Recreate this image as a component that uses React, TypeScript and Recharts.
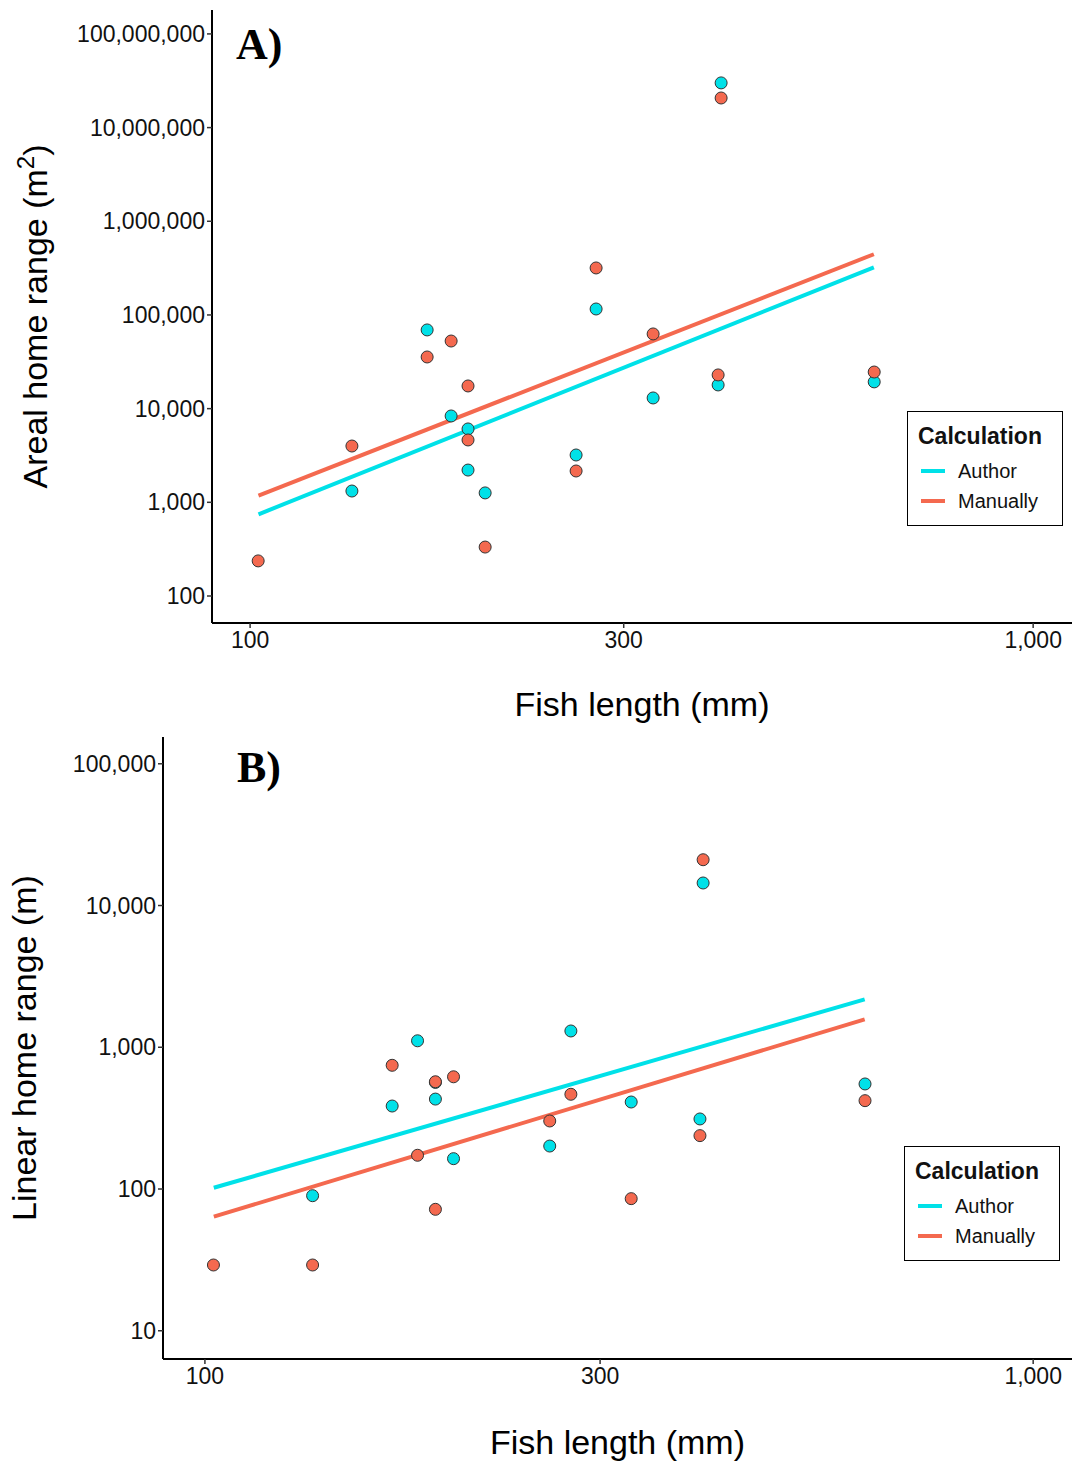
import { ScatterChart, Scatter, XAxis, YAxis, Legend, Customized } from 'recharts';

const FONT = '"Liberation Sans", Arial, Helvetica, sans-serif';
const SERIF = '"Liberation Serif", "Times New Roman", serif';
const AUTHOR = '#00E1E8';
const MANUAL = '#F4694F';

// fish length (mm), one entry per fish
const lengths = [102.4, 134.9, 168.3, 180.6, 189.8, 189.8, 199.6, 260.8, 276.6, 327.1, 399.5, 396, 626.6];

// A) areal home range (m2)
const arealAuthor = [null, 1320, 69200, 8350, 6070, 2210, 1260, 3200, 115800, 13000, 30000000, 17900, 19300];
const arealManual = [237, 3990, 35600, 52700, 17460, 4630, 333, 2160, 317500, 62700, 20700000, 22900, 24600];

// B) linear home range (m)
const linearAuthor = [null, 89.7, 385, 1111, 431, 565, 163.7, 201, 1303, 411, 14420, 312, 551];
const linearManual = [29.1, 29.1, 746, 173, 571, 71.9, 619, 302, 466, 85.5, 21040, 238, 420];

// fitted lines (end points)
const fitLengths = [102.5, 626];
const arealAuthorFit = [745, 322800];
const arealManualFit = [1178, 444600];
const linearAuthorFit = [102, 2177];
const linearManualFit = [63.8, 1574];

const xTicks = [100, 300, 1000];
const arealTicks = [100, 1000, 10000, 100000, 1000000, 10000000, 100000000];
const linearTicks = [10, 100, 1000, 10000, 100000];

const toPts = (xs: number[], ys: (number | null)[]) =>
  xs.map((x, i) => ({ x, y: ys[i] })).filter((p) => p.y != null);

const fmt = (v: number) => v.toLocaleString('en-US');

function Dot(props: any) {
  const { cx, cy, fill } = props;
  if (cx == null || cy == null) return <g />;
  return <circle cx={cx} cy={cy} r={6} fill={fill} stroke="#333" strokeWidth={1} />;
}

const legendColors: Record<string, string> = { Author: AUTHOR, Manually: MANUAL };

function LegendBox() {
  const items = ['Author', 'Manually'];
  return (
    <div
      style={{
        width: 156,
        height: 115,
        boxSizing: 'border-box',
        border: '1.5px solid #000',
        background: '#fff',
        fontFamily: FONT,
        position: 'relative',
        color: '#111',
      }}
    >
      <div style={{ position: 'absolute', left: 10, top: 11, fontSize: 23, fontWeight: 'bold', lineHeight: '26px' }}>
        Calculation
      </div>
      {items.map((name, i) => (
        <div
          key={name}
          style={{ position: 'absolute', left: 13, top: 47 + 30 * i, height: 24, display: 'flex', alignItems: 'center' }}
        >
          <span style={{ display: 'inline-block', width: 24, height: 4, background: legendColors[name] }} />
          <span style={{ marginLeft: 13, fontSize: 20 }}>{name}</span>
        </div>
      ))}
    </div>
  );
}

type PanelProps = {
  height: number;
  top: number;
  yWidth: number;
  xHeight: number;
  xDomain: [number, number];
  yDomain: [number, number];
  yTicks: number[];
  author: (number | null)[];
  manual: (number | null)[];
  authorFit: number[];
  manualFit: number[];
  letter: string;
  letterX: number;
  letterY: number;
  yTitle: React.ReactNode;
  yTitleX: number;
  xTitleY: number;
  legendLeft: number;
  legendTop: number;
};

function Panel(p: PanelProps) {
  const plotLeft = p.yWidth;
  const plotRight = 1072;
  const plotTop = p.top;
  const plotBottom = p.height - p.xHeight;
  const midX = (plotLeft + plotRight) / 2;
  const midY = (plotTop + plotBottom) / 2;
  return (
    <ScatterChart width={1074} height={p.height} margin={{ top: p.top, right: 2, bottom: 0, left: 0 }}>
      <XAxis
        type="number"
        dataKey="x"
        scale="log"
        domain={p.xDomain}
        allowDataOverflow
        ticks={xTicks}
        tickFormatter={fmt}
        height={p.xHeight}
        axisLine={{ stroke: '#000', strokeWidth: 2 }}
        tickLine={{ stroke: '#333', strokeWidth: 1.5 }}
        tickSize={5}
        tickMargin={4}
        tick={{ fontSize: 23, fill: '#111', fontFamily: FONT }}
      />
      <YAxis
        type="number"
        dataKey="y"
        scale="log"
        domain={p.yDomain}
        allowDataOverflow
        ticks={p.yTicks}
        tickFormatter={fmt}
        width={p.yWidth}
        axisLine={{ stroke: '#000', strokeWidth: 2 }}
        tickLine={{ stroke: '#333', strokeWidth: 1.5 }}
        tickSize={5}
        tickMargin={2}
        tick={{ fontSize: 23, fill: '#111', fontFamily: FONT }}
      />
      <Scatter
        data={toPts(fitLengths, p.authorFit)}
        line={{ stroke: AUTHOR, strokeWidth: 4 }}
        shape={() => <g />}
        legendType="none"
        isAnimationActive={false}
      />
      <Scatter
        data={toPts(fitLengths, p.manualFit)}
        line={{ stroke: MANUAL, strokeWidth: 4 }}
        shape={() => <g />}
        legendType="none"
        isAnimationActive={false}
      />
      <Scatter name="Author" data={toPts(lengths, p.author)} fill={AUTHOR} shape={Dot} isAnimationActive={false} />
      <Scatter name="Manually" data={toPts(lengths, p.manual)} fill={MANUAL} shape={Dot} isAnimationActive={false} />
      <Legend
        layout="vertical"
        align="center"
        verticalAlign="middle"
        content={() => <LegendBox />}
        wrapperStyle={{ left: p.legendLeft, top: p.legendTop, width: 156, height: 115 }}
      />
      <Customized
        component={() => (
          <g>
            <text x={p.letterX} y={p.letterY} fontFamily={SERIF} fontWeight="bold" fontSize={44} fill="#000">
              {p.letter}
            </text>
            <text x={midX} y={p.xTitleY} textAnchor="middle" fontFamily={FONT} fontSize={34} fill="#000">
              Fish length (mm)
            </text>
            <text
              x={p.yTitleX}
              y={midY}
              transform={`rotate(-90 ${p.yTitleX} ${midY})`}
              textAnchor="middle"
              fontFamily={FONT}
              fontSize={34}
              fill="#000"
            >
              {p.yTitle}
            </text>
          </g>
        )}
      />
    </ScatterChart>
  );
}

export default function App() {
  return (
    <div style={{ position: 'absolute', left: 0, top: 0, width: 1074, height: 1464, background: '#fff' }}>
      <div style={{ position: 'absolute', left: 0, top: 0 }}>
        <Panel
          height={735}
          top={10}
          yWidth={212}
          xHeight={112}
          xDomain={[89.4, 1121]}
          yDomain={[51.5, 180000000]}
          yTicks={arealTicks}
          author={arealAuthor}
          manual={arealManual}
          authorFit={arealAuthorFit}
          manualFit={arealManualFit}
          letter="A)"
          letterX={236}
          letterY={59}
          yTitle={
            <>
              Areal home range (m
              <tspan baselineShift="super" fontSize={24}>2</tspan>
              <tspan baselineShift="0">)</tspan>
            </>
          }
          yTitleX={47}
          xTitleY={716}
          legendLeft={907}
          legendTop={411}
        />
      </div>
      <div style={{ position: 'absolute', left: 0, top: 720 }}>
        <Panel
          height={744}
          top={17}
          yWidth={163}
          xHeight={105}
          xDomain={[89.0, 1114]}
          yDomain={[6.32, 154500]}
          yTicks={linearTicks}
          author={linearAuthor}
          manual={linearManual}
          authorFit={linearAuthorFit}
          manualFit={linearManualFit}
          letter="B)"
          letterX={237}
          letterY={62}
          yTitle="Linear home range (m)"
          yTitleX={36}
          xTitleY={734}
          legendLeft={904}
          legendTop={426}
        />
      </div>
    </div>
  );
}
